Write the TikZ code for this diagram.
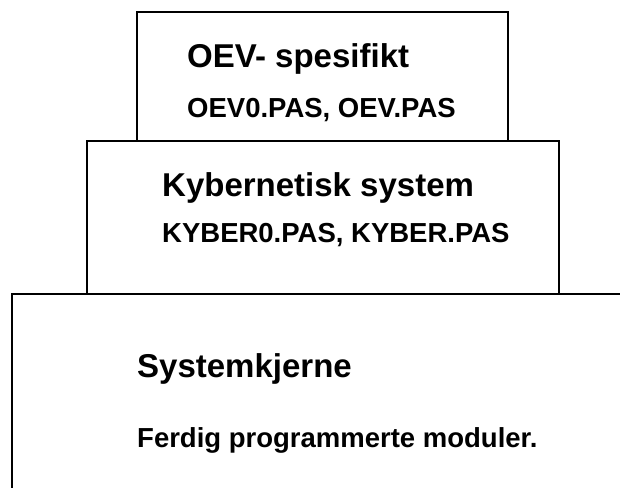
\documentclass[tikz,border=0pt]{standalone}
\usepackage{fontspec}
\setmainfont{Liberation Sans}
\begin{document}
\begin{tikzpicture}[x=1pt,y=-1pt,
  layer/.style={draw=black, line width=2.5pt, fill=white, inner sep=0pt, outer sep=0pt, anchor=north west},
  headline/.style={anchor=base west, inner sep=0pt, font=\bfseries\fontsize{33}{39}\selectfont},
  filesline/.style={anchor=base west, inner sep=0pt, font=\bfseries\fontsize{27.5}{33}\selectfont}]
  \useasboundingbox (0,0) rectangle (620,487);
  \clip (0,0) rectangle (620,487);

  % bottom layer: continues past the lower and right borders
  \node[layer, minimum width=640pt, minimum height=220pt] (kjerne) at (12,294) {};
  % middle layer
  \node[layer, minimum width=472pt, minimum height=153pt] (kyber) at (87,141) {};
  % top layer
  \node[layer, minimum width=371pt, minimum height=129pt] (oev) at (137,12) {};

  \node[headline] (oevtitle) at (187,67) {OEV- spesifikt};
  \node[filesline] (oevfiles) at (187,117) {OEV0.PAS, OEV.PAS};

  \node[headline] (kybertitle) at (162,196) {Kybernetisk system};
  \node[filesline] (kyberfiles) at (162,242) {KYBER0.PAS, KYBER.PAS};

  \node[headline] (kjernetitle) at (137,377) {Systemkjerne};
  \node[filesline] (kjernetext) at (137,447) {Ferdig programmerte moduler.};
\end{tikzpicture}
\end{document}
